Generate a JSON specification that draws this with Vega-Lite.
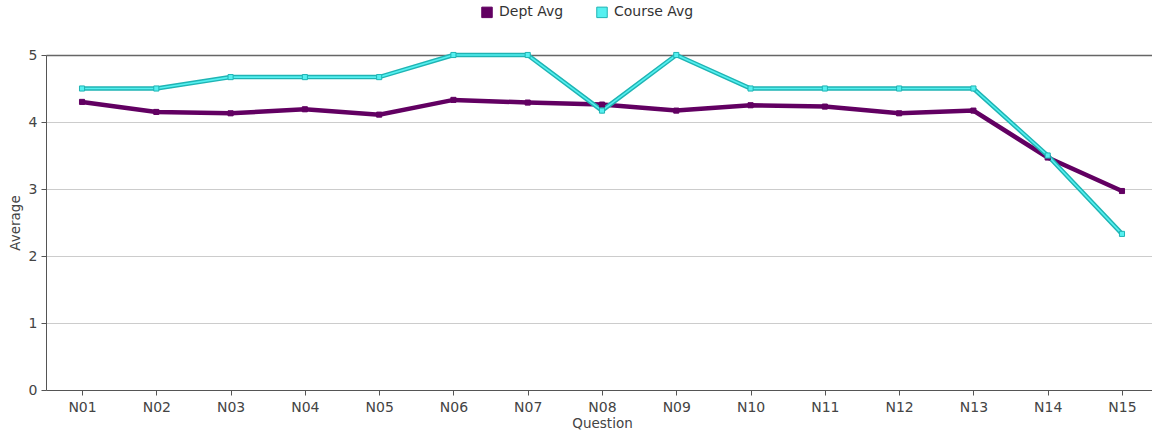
{
  "$schema": "https://vega.github.io/schema/vega-lite/v6.json",
  "width": 1112,
  "height": 335,
  "autosize": {"type": "none"},
  "padding": {"left": 46, "top": 55, "right": 0, "bottom": 53},
  "background": "white",
  "config": {
    "view": {"stroke": null},
    "font": "DejaVu Sans",
    "axis": {"labelFont": "DejaVu Sans", "titleFont": "DejaVu Sans", "labelFontSize": 14, "titleFontSize": 13.5, "titleFontWeight": "normal", "labelColor": "#444", "titleColor": "#444", "domainColor": "#555", "tickColor": "#555"},
    "legend": {"labelFont": "DejaVu Sans", "labelFontSize": 14, "labelColor": "#333"}
  },
  "data": {"values": [
    {"question": "N01", "series": "Dept Avg", "value": 4.30},
    {"question": "N02", "series": "Dept Avg", "value": 4.15},
    {"question": "N03", "series": "Dept Avg", "value": 4.13},
    {"question": "N04", "series": "Dept Avg", "value": 4.19},
    {"question": "N05", "series": "Dept Avg", "value": 4.11},
    {"question": "N06", "series": "Dept Avg", "value": 4.33},
    {"question": "N07", "series": "Dept Avg", "value": 4.29},
    {"question": "N08", "series": "Dept Avg", "value": 4.26},
    {"question": "N09", "series": "Dept Avg", "value": 4.17},
    {"question": "N10", "series": "Dept Avg", "value": 4.25},
    {"question": "N11", "series": "Dept Avg", "value": 4.23},
    {"question": "N12", "series": "Dept Avg", "value": 4.13},
    {"question": "N13", "series": "Dept Avg", "value": 4.17},
    {"question": "N14", "series": "Dept Avg", "value": 3.47},
    {"question": "N15", "series": "Dept Avg", "value": 2.97},
    {"question": "N01", "series": "Course Avg", "value": 4.5},
    {"question": "N02", "series": "Course Avg", "value": 4.5},
    {"question": "N03", "series": "Course Avg", "value": 4.67},
    {"question": "N04", "series": "Course Avg", "value": 4.67},
    {"question": "N05", "series": "Course Avg", "value": 4.67},
    {"question": "N06", "series": "Course Avg", "value": 5.0},
    {"question": "N07", "series": "Course Avg", "value": 5.0},
    {"question": "N08", "series": "Course Avg", "value": 4.17},
    {"question": "N09", "series": "Course Avg", "value": 5.0},
    {"question": "N10", "series": "Course Avg", "value": 4.5},
    {"question": "N11", "series": "Course Avg", "value": 4.5},
    {"question": "N12", "series": "Course Avg", "value": 4.5},
    {"question": "N13", "series": "Course Avg", "value": 4.5},
    {"question": "N14", "series": "Course Avg", "value": 3.5},
    {"question": "N15", "series": "Course Avg", "value": 2.33}
  ]},
  "encoding": {
    "x": {"field": "question", "type": "ordinal", "scale": {"type": "point", "padding": 0.485}, "axis": {"title": "Question", "labelAngle": 0, "tickSize": 5, "labelPadding": 5, "titlePadding": 2, "grid": false}},
    "y": {"field": "value", "type": "quantitative", "scale": {"domain": [0, 5], "nice": false}, "axis": {"title": "Average", "values": [0, 1, 2, 3, 4, 5], "labelOverlap": false, "tickSize": 5, "labelPadding": 4, "titlePadding": 6, "grid": true, "gridColor": {"condition": {"test": "datum.value == 5", "value": "#666"}, "value": "#ccc"}, "gridWidth": {"condition": {"test": "datum.value == 5", "value": 1.5}, "value": 1}}}
  },
  "layer": [
    {"transform": [{"filter": "datum.series == 'Dept Avg'"}], "mark": {"type": "line", "color": "#620062", "strokeWidth": 4.5}},
    {"transform": [{"filter": "datum.series == 'Course Avg'"}], "mark": {"type": "line", "color": "#1FB4B4", "strokeWidth": 4.5}},
    {"transform": [{"filter": "datum.series == 'Course Avg'"}], "mark": {"type": "line", "color": "#55F0F0", "strokeWidth": 1.6}},
    {"mark": {"type": "point", "shape": "square", "filled": true, "size": 26, "strokeWidth": 1, "opacity": 1},
     "encoding": {
       "fill": {"field": "series", "type": "nominal", "scale": {"domain": ["Dept Avg", "Course Avg"], "range": ["#620062", "#55F0F0"]},
         "legend": {"title": null, "orient": "none", "legendX": 434, "legendY": -50, "direction": "horizontal", "symbolType": "square", "symbolSize": 110, "symbolStrokeColor": "#222", "symbolStrokeWidth": 1, "columnPadding": 30, "labelOffset": 5}},
       "stroke": {"field": "series", "type": "nominal", "scale": {"domain": ["Dept Avg", "Course Avg"], "range": ["#620062", "#1FB4B4"]}, "legend": null}
     }}
  ]
}
